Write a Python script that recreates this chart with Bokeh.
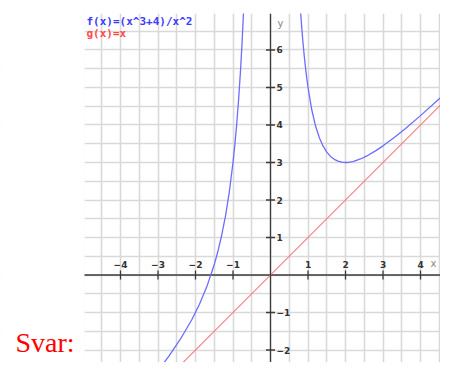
from math import pi
from bokeh.plotting import figure
from bokeh.models import Range1d, Grid, SingleIntervalTicker, Span, Label, BoxAnnotation
from bokeh.embed import file_html
from bokeh.resources import INLINE

# f(x) = (x^3+4)/x^2
f_left_x = [-3.3, -3.0, -2.7, -2.4, -2.1, -1.9, -1.7, -1.5, -1.4, -1.3, -1.2, -1.1,
            -1.0, -0.95, -0.9, -0.85, -0.8, -0.76, -0.72, -0.70]
f_left_y = [-2.933, -2.556, -2.151, -1.706, -1.193, -0.792, -0.316, 0.278, 0.641, 1.067,
            1.578, 2.206, 3.0, 3.482, 4.038, 4.686, 5.45, 6.165, 6.996, 7.463]
f_right_x = [0.78, 0.80, 0.83, 0.86, 0.90, 0.95, 1.0, 1.1, 1.2, 1.3, 1.4, 1.5, 1.6, 1.7,
             1.8, 1.9, 2.0, 2.1, 2.2, 2.4, 2.6, 2.8, 3.0, 3.3, 3.6, 4.0, 4.5, 5.0]
f_right_y = [7.355, 7.05, 6.636, 6.268, 5.838, 5.382, 5.0, 4.406, 3.978, 3.667, 3.441,
             3.278, 3.1625, 3.084, 3.035, 3.008, 3.0, 3.007, 3.026, 3.094, 3.192, 3.31,
             3.444, 3.667, 3.909, 4.25, 4.698, 5.16]
# g(x) = x
g_x = [-3.5, 5.0]
g_y = [-3.5, 5.0]

x_ticks = [-4, -3, -2, -1, 1, 2, 3, 4]
x_tick_labels = ["\u22124", "\u22123", "\u22122", "\u22121", "1", "2", "3", "4"]
y_ticks = [-2, -1, 1, 2, 3, 4, 5, 6]
y_tick_labels = ["\u22122", "\u22121", "1", "2", "3", "4", "5", "6"]

X_LEFT = -4.96   # left edge of the drawn coordinate system
X_RIGHT = 4.533
X_PAGE = -7.2

p = figure(width=440, height=362, output_backend="svg", toolbar_location=None,
           x_axis_type=None, y_axis_type=None,
           x_range=Range1d(X_PAGE, X_RIGHT), y_range=Range1d(-2.333, 6.973),
           min_border_left=0, min_border_right=0, min_border_top=13, min_border_bottom=0)
p.outline_line_color = None
p.background_fill_color = "white"
p.border_fill_color = "white"

for dim in (0, 1):
    g = Grid(dimension=dim, ticker=SingleIntervalTicker(interval=0.5),
             grid_line_color="#d9d9d9", grid_line_width=1.6)
    p.add_layout(g)

# blank page area left of the coordinate system (covers grid there)
p.add_layout(BoxAnnotation(right=X_LEFT, fill_color="white", fill_alpha=1.0,
                           line_color="white", line_width=2, level="underlay"))

# axes lines
p.segment(x0=[X_LEFT], y0=[0], x1=[X_RIGHT], y1=[0], line_color="#3a3a3a", line_width=1.3)
p.add_layout(Span(location=0, dimension="height", line_color="#3a3a3a", line_width=1.3))

p.scatter(x=x_ticks, y=[0] * len(x_ticks), marker="dash", size=9, angle=pi / 2,
          line_color="#3a3a3a", line_width=1.3)
p.scatter(x=[0] * len(y_ticks), y=y_ticks, marker="dash", size=9,
          line_color="#3a3a3a", line_width=1.3)

p.text(x=x_ticks, y=[0] * len(x_ticks), text=x_tick_labels, y_offset=-7,
       text_align="center", text_baseline="bottom", text_font_size="9px",
       text_font_style="bold", text_color="#333333", text_font={"value": "DejaVu Sans"})
p.text(x=[0] * len(y_ticks), y=y_ticks, text=y_tick_labels, x_offset=6,
       text_align="left", text_baseline="middle", text_font_size="9px",
       text_font_style="bold", text_color="#333333", text_font={"value": "DejaVu Sans"})

p.line(g_x, g_y, line_color="#ff7a7a", line_width=1.1)
p.line(f_left_x, f_left_y, line_color="#6c6cff", line_width=1.3)
p.line(f_right_x, f_right_y, line_color="#6c6cff", line_width=1.3)

p.add_layout(Label(x=X_RIGHT, y=0, text="x", x_offset=-7, y_offset=6, text_align="center",
                   text_baseline="bottom", text_font_size="10px", text_color="#888888",
                   text_font="DejaVu Sans"))
p.add_layout(Label(x=0, y=6.715, text="y", x_offset=7, text_align="left",
                   text_baseline="middle", text_font_size="10px", text_color="#888888",
                   text_font="DejaVu Sans"))

p.add_layout(Label(x=-4.907, y=6.76, text="f(x)=(x^3+4)/x^2", text_align="left",
                   text_baseline="middle", text_font_size="11px", text_font_style="bold",
                   text_color="#3c3cff", text_font="DejaVu Sans Mono"))
p.add_layout(Label(x=-4.907, y=6.44, text="g(x)=x", text_align="left",
                   text_baseline="middle", text_font_size="11px", text_font_style="bold",
                   text_color="#ff4a4a", text_font="DejaVu Sans Mono"))

p.add_layout(Label(x=-6.8, y=-1.8, text="Svar:", text_align="left",
                   text_baseline="middle", text_font_size="28px",
                   text_color="#ff0000", text_font="Liberation Serif"))

open("out.html", "w").write(file_html(p, INLINE))
